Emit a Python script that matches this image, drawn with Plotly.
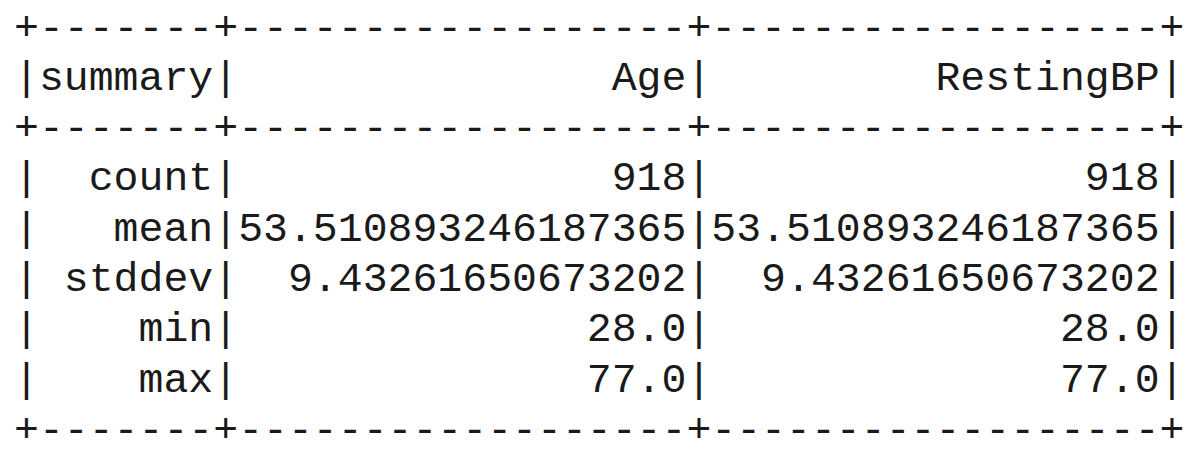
import plotly.graph_objs as go

columns = ['summary', 'Age', 'RestingBP']
stats = ['count', 'mean', 'stddev', 'min', 'max']
age = ['918', '53.510893246187365', '9.43261650673202', '28.0', '77.0']
resting_bp = ['918', '53.510893246187365', '9.43261650673202', '28.0', '77.0']

widths = [7, 18, 18]
border = '+' + '+'.join('-' * w for w in widths) + '+'


def row(cells):
    return '|' + '|'.join(c.rjust(w) for c, w in zip(cells, widths)) + '|'


lines = [border, row(columns), border]
lines += [row([s, a, r]) for s, a, r in zip(stats, age, resting_bp)]
lines += [border]

fig = go.Figure()
for i, line in enumerate(lines):
    fig.add_annotation(x=4, y=20 + i * 50.3, xref='x', yref='y', text=line.replace(' ', '&nbsp;'),
                       showarrow=False, xanchor='left', yanchor='middle',
                       font=dict(family='Liberation Mono', size=41.5, color='#1a1a1a'))

fig.update_layout(
    width=1203, height=456,
    margin=dict(l=0, r=0, t=0, b=0),
    paper_bgcolor='white', plot_bgcolor='white',
    xaxis=dict(range=[0, 1203], visible=False),
    yaxis=dict(range=[456, 0], visible=False),
)
fig.write_html('out.html')
